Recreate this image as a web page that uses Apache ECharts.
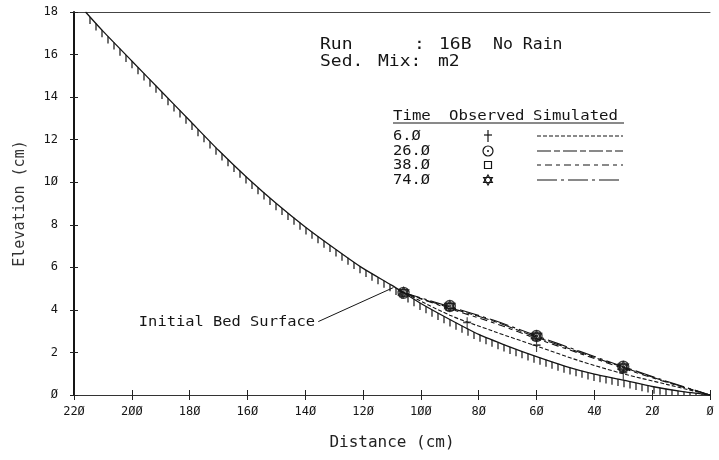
<!DOCTYPE html>
<html><head><meta charset="utf-8">
<script src="https://cdn.jsdelivr.net/npm/echarts@6/dist/echarts.min.js"></script>
<style>html,body{margin:0;padding:0;background:#fff}#c{width:719px;height:460px}</style>
</head><body><div id="c"></div>
<script>
// ---- data ----
const xTickLabels = ['Ø','2Ø','4Ø','6Ø','8Ø','1ØØ','12Ø','14Ø','16Ø','18Ø','2ØØ','22Ø'];
const yTickLabels = ['Ø','2','4','6','8','1Ø','12','14','16','18'];

// initial bed surface
const bedDist = [216, 210, 200, 190, 180, 170, 160, 150, 140, 130, 120, 110, 100, 90, 80, 70, 60, 50, 40, 30, 20, 10, 0];
const bedElev = [18, 17.1, 15.7, 14.3, 12.9, 11.5, 10.2, 9.0, 7.9, 6.9, 5.95, 5.15, 4.3, 3.55, 2.85, 2.3, 1.8, 1.35, 0.98, 0.7, 0.4, 0.17, 0];

// simulated profiles
const simDist = [107, 90, 75, 60, 45, 30, 15, 0];
const sim6  = [4.9, 3.75, 3.0, 2.3, 1.6, 1.0, 0.5, 0];
const sim26 = [4.85, 4.1, 3.48, 2.72, 2.0, 1.3, 0.62, 0];
const sim38 = [4.85, 4.05, 3.4, 2.65, 1.95, 1.25, 0.6, 0];
const sim74 = [4.85, 4.15, 3.52, 2.78, 2.05, 1.33, 0.65, 0];

// observed profiles
const obs6Dist = [84, 60, 30];
const obs6 = [3.37, 2.3, 1.0];
const obsDist = [106, 90, 60, 30];
const obs26 = [4.8, 4.18, 2.77, 1.33];
const obs38 = [4.8, 4.15, 2.75, 1.3];
const obs74 = [4.82, 4.18, 2.77, 1.33];

const times = ['6.Ø', '26.Ø', '38.Ø', '74.Ø'];

// ---- styling ----
const FONT = '"DejaVu Sans Mono", "Liberation Mono", monospace';
const INK = '#151515';
const P_PLUS = 'M5,0L5,12M1,5L9,5';
const P_CIRC = 'M10,5A5,5,0,1,1,0,5A5,5,0,1,1,10,5ZM6,5A1,1,0,1,1,4,5A1,1,0,1,1,6,5Z';
const P_RECT = 'M0,0L10,0L10,10L0,10Z';
const P_STAR = 'M5,0L9.33,7.5L0.67,7.5ZM5,10L0.67,2.5L9.33,2.5Z';
const dash6 = [4, 2], dash26 = [14, 3, 6, 3], dash38 = [4, 4, 7, 4], dash74 = [20, 4, 3, 4];

const zip = (a, b) => a.map((v, i) => [v, b[i]]);
const segs = bedDist.slice(0, -1).map((d, i) => [d, bedElev[i], bedDist[i + 1], bedElev[i + 1]]);

function simSeries(name, vals, dash, w) {
  return { name, type: 'line', data: zip(simDist, vals), symbol: 'none', smooth: 0.3,
    lineStyle: { color: INK, width: w || 1.1, type: dash }, z: 3 };
}
function obsSeries(name, d, vals, path, size) {
  return { name, type: 'scatter', data: zip(d, vals), symbol: 'path://' + path, symbolSize: size,
    itemStyle: { color: 'rgba(0,0,0,0)', borderColor: INK, borderWidth: 1.4 }, z: 5 };
}

const chart = echarts.init(document.getElementById('c'));

const legendRowsY = [136, 151, 165, 180];
const legendDash = [dash6, dash26, dash38, dash74];
const graphics = [];
const STROKE = { stroke: INK, lineWidth: 1.2, fill: null };
function txt(s, x, y, size, sx, align, color) {
  graphics.push({ type: 'text', x, y, scaleX: sx || 1, silent: true,
    style: { text: s, font: size + 'px ' + FONT, fill: color || INK, align: align || 'left', verticalAlign: 'middle' } });
}
function legendMarker(i, cx, cy) {
  if (i === 0) {
    graphics.push({ type: 'line', silent: true, shape: { x1: cx, y1: cy - 6, x2: cx, y2: cy + 6 }, style: STROKE });
    graphics.push({ type: 'line', silent: true, shape: { x1: cx - 4, y1: cy - 1, x2: cx + 4, y2: cy - 1 }, style: STROKE });
  } else if (i === 1) {
    graphics.push({ type: 'circle', silent: true, shape: { cx, cy, r: 5 }, style: { stroke: INK, lineWidth: 1.2, fill: 'none' } });
    graphics.push({ type: 'circle', silent: true, shape: { cx, cy, r: 1 }, style: { fill: INK } });
  } else if (i === 2) {
    graphics.push({ type: 'rect', silent: true, shape: { x: cx - 3.5, y: cy - 3.5, width: 7, height: 7 }, style: { stroke: INK, lineWidth: 1.2, fill: 'none' } });
  } else {
    graphics.push({ type: 'polygon', silent: true, shape: { points: [[cx, cy - 5], [cx + 4.33, cy + 2.5], [cx - 4.33, cy + 2.5]] }, style: { stroke: INK, lineWidth: 1.2, fill: 'none' } });
    graphics.push({ type: 'polygon', silent: true, shape: { points: [[cx, cy + 5], [cx - 4.33, cy - 2.5], [cx + 4.33, cy - 2.5]] }, style: { stroke: INK, lineWidth: 1.2, fill: 'none' } });
  }
}
txt('Run', 320, 45, 15, 1.2); txt(':', 414, 45, 15, 1.2); txt('16B', 439, 45, 15, 1.2); txt('No Rain', 493, 45, 15, 1.1);
txt('Sed.', 320, 62, 15, 1.2); txt('Mix:', 378, 62, 15, 1.2); txt('m2', 438, 62, 15, 1.2);
txt('Time', 393, 116, 14, 1.12); txt('Observed', 449, 116, 14, 1.12); txt('Simulated', 533, 116, 14, 1.12);
graphics.push({ type: 'line', silent: true, shape: { x1: 393, y1: 123, x2: 624, y2: 123 }, style: { stroke: INK, lineWidth: 1 } });
times.forEach((t, i) => {
  const y = legendRowsY[i];
  txt(t, 393, y, 14, 1.1);
  legendMarker(i, 488, y);
  graphics.push({ type: 'line', silent: true, shape: { x1: 537, y1: y, x2: 623, y2: y },
    style: { stroke: INK, lineWidth: 1.1, lineDash: legendDash[i] } });
});
txt('Initial Bed Surface', 315, 322, 14, 1.1, 'right');

chart.setOption({
  animation: false,
  backgroundColor: '#fff',
  grid: { left: 74, right: 9, top: 12, bottom: 65 },
  xAxis: [
    { type: 'value', inverse: true, min: 0, max: 220, interval: 20, position: 'bottom',
      name: 'Distance (cm)', nameLocation: 'middle', nameGap: 40,
      nameTextStyle: { fontFamily: FONT, fontSize: 16, color: '#222' },
      axisLine: { show: true, onZero: false, lineStyle: { color: '#333', width: 1 } },
      axisTick: { show: true, inside: false, length: 5, lineStyle: { color: '#222' } },
      axisLabel: { fontFamily: FONT, fontSize: 12, color: INK, margin: 11, formatter: v => xTickLabels[Math.round(v / 20)] },
      splitLine: { show: false } },
    { type: 'value', inverse: true, min: 0, max: 220, interval: 20, position: 'bottom',
      axisLine: { show: false, onZero: false }, axisTick: { show: true, inside: true, length: 5, lineStyle: { color: '#222' } },
      axisLabel: { show: false }, splitLine: { show: false } },
    { type: 'value', inverse: true, min: 0, max: 220, interval: 20, position: 'top',
      axisLine: { show: true, onZero: false, lineStyle: { color: '#444', width: 1 } }, axisTick: { show: false },
      axisLabel: { show: false }, splitLine: { show: false } }
  ],
  yAxis: [
    { type: 'value', min: 0, max: 18, interval: 2, position: 'left',
      name: 'Elevation (cm)', nameLocation: 'middle', nameGap: 46,
      nameTextStyle: { fontFamily: FONT, fontSize: 15, color: '#333' },
      axisLine: { show: true, onZero: false, lineStyle: { color: INK, width: 2 } },
      axisTick: { show: true, inside: false, length: 4, lineStyle: { color: '#222' } },
      axisLabel: { fontFamily: FONT, fontSize: 12, color: INK, margin: 16, formatter: v => yTickLabels[Math.round(v / 2)] },
      splitLine: { show: false } },
    { type: 'value', min: 0, max: 18, interval: 2, position: 'left',
      axisLine: { show: false, onZero: false }, axisTick: { show: true, inside: true, length: 4, lineStyle: { color: '#222' } },
      axisLabel: { show: false }, splitLine: { show: false } }
  ],
  graphic: graphics,
  series: [
    { name: 'Initial Bed Surface', type: 'line', data: zip(bedDist, bedElev), symbol: 'none', smooth: 0.2,
      lineStyle: { color: INK, width: 1.3 }, z: 4,
      markLine: { silent: true, symbol: ['none', 'arrow'], symbolSize: [0, 8],
        lineStyle: { color: INK, width: 1, type: 'solid' }, label: { show: false },
        data: [[{ coord: [135.5, 3.45] }, { coord: [109.5, 5.05] }]] } },
    { name: 'hatch', type: 'custom', data: segs, encode: { x: [0, 2], y: [1, 3] }, clip: true, z: 2,
      renderItem: function (params, api) {
        const p0 = api.coord([api.value(0), api.value(1)]);
        const p1 = api.coord([api.value(2), api.value(3)]);
        const base = api.coord([0, 0])[1];
        const step = 6, len = 7, children = [];
        const xa = Math.min(p0[0], p1[0]), xb = Math.max(p0[0], p1[0]);
        for (let x = Math.ceil(xa / step) * step; x < xb; x += step) {
          const t = (x - p0[0]) / (p1[0] - p0[0]);
          const y = p0[1] + t * (p1[1] - p0[1]);
          children.push({ type: 'line', shape: { x1: x, y1: y, x2: x, y2: Math.min(y + len, base) },
            style: { stroke: INK, lineWidth: 1.2 } });
        }
        return { type: 'group', children };
      } },
    simSeries('6.0 sim', sim6, dash6),
    simSeries('26.0 sim', sim26, dash26),
    simSeries('38.0 sim', sim38, dash38),
    simSeries('74.0 sim', sim74, dash74),
    obsSeries('6.0 obs', obs6Dist, obs6, P_PLUS, [8, 12]),
    obsSeries('26.0 obs', obsDist, obs26, P_CIRC, 11),
    obsSeries('38.0 obs', obsDist, obs38, P_RECT, 7),
    obsSeries('74.0 obs', obsDist, obs74, P_STAR, 10)
  ]
});
</script></body></html>
